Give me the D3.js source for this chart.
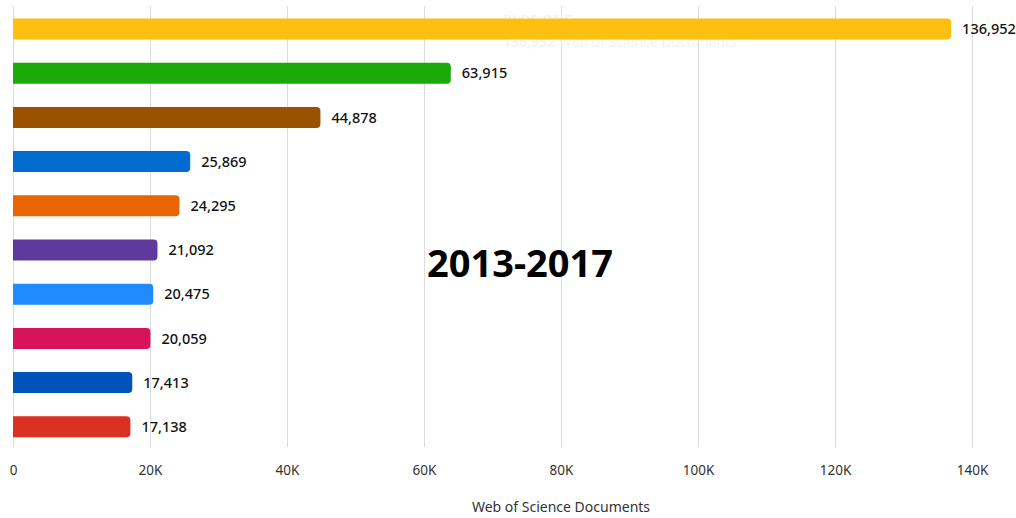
<!DOCTYPE html>
<html><head><meta charset="utf-8">
<script src="https://cdn.jsdelivr.net/npm/d3@7"></script>
<style>body{margin:0;background:#fff}svg{display:block}</style>
</head><body>
<svg id="c" width="1016" height="518"></svg>
<script>
const categories = ["PLOS ONE","Journal 2","Journal 3","Journal 4","Journal 5","Journal 6","Journal 7","Journal 8","Journal 9","Journal 10"];
const values = [136952,63915,44878,25869,24295,21092,20475,20059,17413,17138];
const colors = ["#fdc010","#1aab0a","#9a5200","#006ccf","#e86500","#5d3a9b","#1f8bff","#d6135b","#0054b8","#dc3022"];
const ticks = [0,20000,40000,60000,80000,100000,120000,140000];
const period = "2013-2017";
const axisTitle = "Web of Science Documents";

const svg = d3.select("#c");
const x = d3.scaleLinear().domain([0,140000]).range([13,972]);
const y = d3.scaleBand().domain(categories).range([6.9,448.9]).paddingInner(0.525).paddingOuter(0.2625);
const fmt = d3.format(",");
const font = "'Source Sans Pro','Noto Sans',sans-serif";

// gridlines
svg.append("g").selectAll("line").data(ticks).join("line")
  .attr("x1",d=>x(d)+0.5).attr("x2",d=>x(d)+0.5)
  .attr("y1",6).attr("y2",447).attr("stroke","#dcdcdc").attr("stroke-width",1);

// ghost tooltip text
const ghost = svg.append("g").attr("fill","#f3f3f3").attr("font-family",font);
ghost.append("text").attr("x",503).attr("y",25).attr("font-size",14).attr("font-weight",700).text(categories[0]);
ghost.append("text").attr("x",503).attr("y",47).attr("font-size",14)
  .html(`<tspan font-weight="700">${fmt(values[0])}</tspan> ${axisTitle}`);

// bars
const r = 4;
function barPath(v, cat){
  const x0 = x(0), x1 = x(v), y0 = y(cat), h = y.bandwidth();
  return `M${x0},${y0}H${x1-r}A${r},${r} 0 0 1 ${x1},${y0+r}V${y0+h-r}A${r},${r} 0 0 1 ${x1-r},${y0+h}H${x0}Z`;
}
svg.append("g").selectAll("path").data(values).join("path")
  .attr("d",(d,i)=>barPath(d,categories[i])).attr("fill",(d,i)=>colors[i]);

// value labels
svg.append("g").selectAll("text").data(values).join("text")
  .attr("x",d=>x(d)+11).attr("y",(d,i)=>y(categories[i])+y.bandwidth()/2)
  .attr("dy","0.36em").attr("font-family",font).attr("font-size",14.5).attr("font-weight",500)
  .attr("fill","#111").text(d=>fmt(d));

// x axis tick labels
const axis = d3.axisBottom(x).tickValues(ticks).tickSize(0).tickPadding(0)
  .tickFormat(d=> d===0 ? "0" : (d/1000)+"K");
const ag = svg.append("g").attr("transform","translate(0,475)").call(axis);
ag.select(".domain").remove();
ag.selectAll("text").attr("font-family",font).attr("font-size",13.5).attr("fill","#333").attr("dy","0");

// axis title
svg.append("text").attr("x",561).attr("y",512).attr("text-anchor","middle")
  .attr("font-family",font).attr("font-size",14).attr("fill","#333").text(axisTitle);

// period title
svg.append("text").attr("x",520).attr("y",277).attr("text-anchor","middle")
  .attr("font-family","'Noto Sans',sans-serif").attr("font-size",38).attr("font-weight",700)
  .attr("fill","#000").text(period);
</script>
</body></html>
